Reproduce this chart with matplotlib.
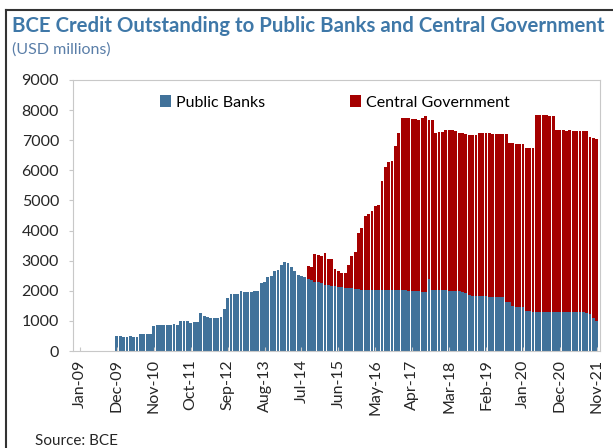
import numpy as np
import matplotlib
matplotlib.use("Agg")
import matplotlib.pyplot as plt
from matplotlib.lines import Line2D

plt.rcParams['font.family'] = ['Lato', 'DejaVu Sans']

# Monthly data Jan-09 .. Nov-21 (155 months), USD millions
public_banks = [
    0, 0, 0, 0, 0, 0, 0, 0, 0, 0, 0,
    500, 490, 480, 480, 490, 470, 460, 560, 570, 570, 560,
    830, 860, 870, 860, 880, 860, 900, 880, 980, 1010, 1000,
    920, 960, 950, 1260, 1160, 1130, 1100, 1080, 1100, 1120, 1400,
    1750, 1880, 1900, 1890, 1980, 1960, 1970, 1960, 1980, 1990, 2250,
    2300, 2450, 2500, 2650, 2700, 2850, 2950, 2930, 2800, 2650, 2520,
    2480, 2450, 2400, 2350, 2300, 2280, 2250, 2200, 2180, 2150, 2150,
    2130, 2120, 2100, 2100, 2080, 2060, 2050, 2040, 2030, 2030, 2020,
    2020, 2030, 2020, 2020, 2030, 2020, 2020, 2030, 2020, 2010, 2000,
    2000, 1990, 1980, 1970, 1950, 2400, 2030, 2040, 2030, 2020, 2020,
    2000, 2000, 1990, 1980, 1960, 1940, 1850, 1840, 1830, 1830, 1820,
    1810, 1800, 1800, 1790, 1780, 1780, 1640, 1620, 1480, 1470, 1460,
    1450, 1320, 1320, 1310, 1310, 1300, 1300, 1300, 1300, 1300, 1300,
    1290, 1290, 1290, 1290, 1280, 1280, 1280, 1280, 1250, 1240, 1100,
    1000,
]

central_government = [0] * 68 + [
    410, 450, 920, 900, 900, 1050, 880, 900, 580, 520, 480, 500,
    770, 1060, 1240, 1880, 2060, 2450, 2520, 2630, 2810, 2820, 3620, 4080,
    4240, 4280, 4790, 5200, 5710, 5740, 5730, 5720, 5710, 5700, 5760, 5850,
    5270, 5640, 5190, 5250, 5260, 5310, 5330, 5330, 5330, 5250, 5270, 5280,
    5320, 5330, 5340, 5400, 5410, 5420, 5430, 5420, 5410, 5410, 5410, 5550,
    5280, 5420, 5410, 5410, 5420, 5410, 5410, 5420, 6520, 6530, 6530, 6530,
    6520, 6520, 6040, 6040, 6040, 6030, 6040, 6030, 6030, 6020, 6020, 6050,
    5860, 5980, 6050,
]

tick_labels = ["Jan-09", "Dec-09", "Nov-10", "Oct-11", "Sep-12", "Aug-13", "Jul-14",
               "Jun-15", "May-16", "Apr-17", "Mar-18", "Feb-19", "Jan-20", "Dec-20",
               "Nov-21"]

blue = "#41729A"
red = "#A50000"
grid_gray = "#C8C8C8"
text_color = "#262626"

x = np.arange(len(public_banks))

fig = plt.figure(figsize=(6.13, 4.48), dpi=100)
ax = fig.add_axes([0.119, 0.2165, 0.86, 0.605])

ax.bar(x, public_banks, width=0.85, color=blue, label="Public Banks", linewidth=0)
ax.bar(x, central_government, width=0.85, bottom=public_banks, color=red,
       label="Central Government", linewidth=0)

ax.set_xlim(-2.1, 155.0)
ax.set_ylim(0, 9000)
ax.set_yticks(range(0, 9001, 1000))
ax.set_xticks(range(0, len(public_banks), 11))
ax.set_xticklabels(tick_labels, rotation=90)

for side in ["left", "bottom", "top", "right"]:
    ax.spines[side].set_color(grid_gray)
    ax.spines[side].set_linewidth(0.8)

ax.tick_params(axis="y", colors=grid_gray, labelcolor=text_color, labelsize=11.5,
               length=3, width=0.8, pad=7)
ax.tick_params(axis="x", colors=grid_gray, labelcolor=text_color, labelsize=11.5,
               length=3, width=0.8, direction="in", pad=6)

ax.legend(loc="center", bbox_to_anchor=(0.497, 0.917), ncol=2, frameon=False,
          fontsize=11.5, handlelength=0.7, handleheight=0.7, handletextpad=0.3,
          columnspacing=5.3, borderaxespad=0)

fig.text(0.02, 0.928, "BCE Credit Outstanding to Public Banks and Central Government",
         fontsize=14.7, fontweight="bold", color="#3F78A8")
fig.text(0.02, 0.88, "(USD millions)", fontsize=11.5, color="#5A7EA8")
fig.text(0.057, 0.006, "Source: BCE", fontsize=11, color=text_color)

# outer frame
fig.add_artist(Line2D([0.009, 0.009], [0.0, 0.977], transform=fig.transFigure,
                      color="#333333", linewidth=1.5))
fig.add_artist(Line2D([0.009, 1.0], [0.977, 0.977], transform=fig.transFigure,
                      color="#333333", linewidth=1.5))

fig.savefig("out.png", dpi=100)
